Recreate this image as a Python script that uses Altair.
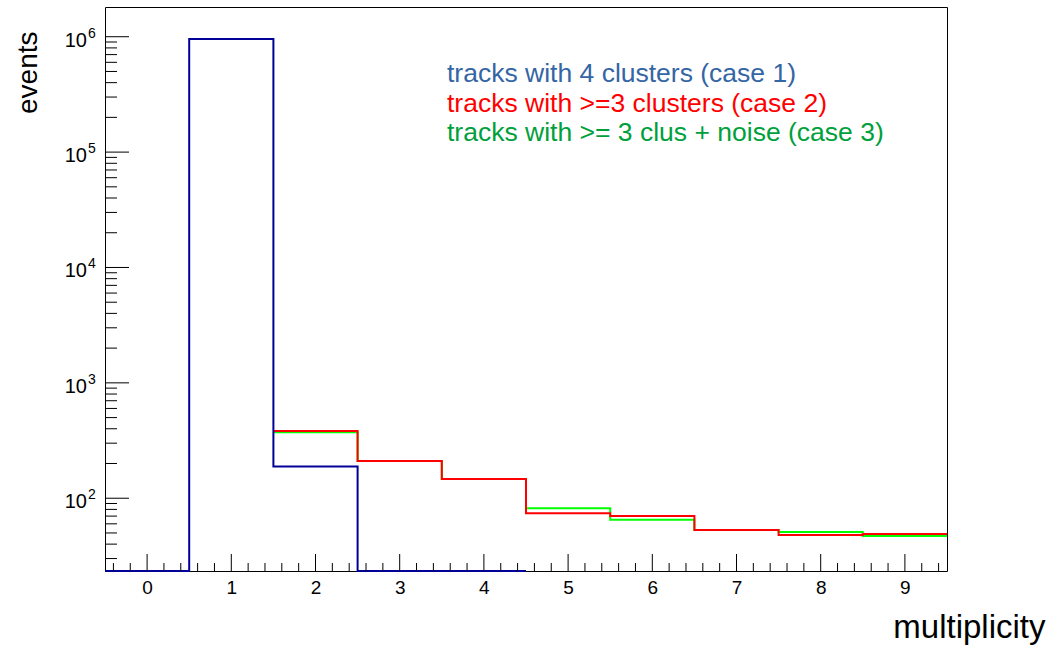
import altair as alt
import numpy as np
import pandas as pd

# ---- histogram contents (bin centre = multiplicity) ----
bins_case1 = [0, 1, 2, 3, 4]
counts_case1 = [0, 955000, 188, 0, 0]

bins_case23 = [2, 3, 4, 5, 6, 7, 8, 9]
counts_case2 = [383, 210, 147, 74, 70, 53, 48, 49]
counts_case3 = [373, 210, 147, 82, 65, 53, 51, 47]

legend_labels = [
    "tracks with 4 clusters (case 1)",
    "tracks with >=3 clusters (case 2)",
    "tracks with >= 3 clus + noise (case 3)",
]
legend_colors = ["#3465a4", "#ff0000", "#00a03c"]

# ---- axis ranges and tick positions ----
X_MIN, X_MAX = -0.5, 9.5
Y_MIN, Y_MAX = 23.4, 1.81e6
x_major = list(range(0, 10))
x_minor = [i / 5 for i in range(-2, 48) if i % 5 != 0]
y_major = [1e2, 1e3, 1e4, 1e5, 1e6]
y_minor = [m * 10 ** k for k in range(1, 7) for m in range(2, 10)
           if Y_MIN < m * 10 ** k < Y_MAX]

W, H = 842, 564
FONT = "Liberation Sans"

xscale = alt.Scale(domain=[X_MIN, X_MAX], nice=False, zero=False)
yscale = alt.Scale(type="log", domain=[Y_MIN, Y_MAX], nice=False, clamp=True)

# one axis definition per channel, shared by every layer so they merge cleanly
X_AXIS = alt.Axis(values=x_major, ticks=False, domain=False, grid=False,
                  labelFont=FONT, labelFontSize=19, labelColor="black",
                  labelPadding=7, title="multiplicity", titleFont=FONT,
                  titleFontSize=33, titleFontWeight="normal", titleColor="black",
                  titleAlign="right", titleBaseline="alphabetic",
                  titleX=940, titleY=66)
Y_AXIS = alt.Axis(labels=False, ticks=False, domain=False, grid=False,
                  title="events", titleFont=FONT, titleFontSize=28,
                  titleFontWeight="normal", titleColor="black",
                  titleAngle=270, titleAlign="right", titleBaseline="alphabetic",
                  titleX=-69, titleY=24)


def step_table(bins, counts):
    """Edges + contents for a step-after line; empty bins sit on the frame floor."""
    edges = [b - 0.5 for b in bins] + [bins[-1] + 0.5]
    vals = [c if c > 0 else Y_MIN for c in counts]
    vals = vals + [vals[-1]]
    return pd.DataFrame({"edge": edges, "count": vals, "order": range(len(edges))})


def hist_layer(df, color):
    return alt.Chart(df).mark_line(interpolate="step-after", color=color,
                                   strokeWidth=2).encode(
        x=alt.X("edge:Q", scale=xscale, axis=X_AXIS, title="multiplicity"),
        y=alt.Y("count:Q", scale=yscale, axis=Y_AXIS, title="events"),
        order="order:Q",
    )


green = hist_layer(step_table(bins_case23, counts_case3), "#00ff00")
red = hist_layer(step_table(bins_case23, counts_case2), "#ff0000")
blue = hist_layer(step_table(bins_case1, counts_case1), "#000099")


def xpos(field):
    return alt.X(field, scale=xscale, axis=X_AXIS, title="multiplicity")


def ypos(field):
    return alt.Y(field, scale=yscale, axis=Y_AXIS, title="events")


# ---- inward ticks on the frame ----
xmaj_ticks = alt.Chart(pd.DataFrame({"v": x_major})).mark_rule(color="black").encode(
    x=xpos("v:Q"), y=alt.value(H), y2=alt.value(H - 17))
xmin_ticks = alt.Chart(pd.DataFrame({"v": x_minor})).mark_rule(color="black").encode(
    x=xpos("v:Q"), y=alt.value(H), y2=alt.value(H - 8))
ymaj_ticks = alt.Chart(pd.DataFrame({"v": y_major})).mark_rule(color="black").encode(
    y=ypos("v:Q"), x=alt.value(0), x2=alt.value(24))
ymin_ticks = alt.Chart(pd.DataFrame({"v": y_minor})).mark_rule(color="black").encode(
    y=ypos("v:Q"), x=alt.value(0), x2=alt.value(12))

# ---- log-axis labels written as 10 with a raised exponent ----
ylab = pd.DataFrame({"v": y_major,
                     "base": ["10"] * len(y_major),
                     "exp": [str(int(round(np.log10(v)))) for v in y_major]})
ybase = alt.Chart(ylab).mark_text(align="right", baseline="alphabetic", dy=10,
                                  font=FONT, fontSize=20, color="black").encode(
    y=ypos("v:Q"), x=alt.value(-18), text="base:N")
yexp = alt.Chart(ylab).mark_text(align="left", baseline="alphabetic", dy=1,
                                 font=FONT, fontSize=14, color="black").encode(
    y=ypos("v:Q"), x=alt.value(-17), text="exp:N")

# ---- legend text ----
legend_layers = []
for i, (lab, col) in enumerate(zip(legend_labels, legend_colors)):
    legend_layers.append(
        alt.Chart(pd.DataFrame({"label": [lab]})).mark_text(
            align="left", baseline="alphabetic", font=FONT, fontSize=26.5, color=col
        ).encode(x=alt.value(342), y=alt.value(75 + i * 29.7), text="label:N")
    )

chart = alt.layer(
    green, red, blue,
    xmaj_ticks, xmin_ticks, ymaj_ticks, ymin_ticks,
    ybase, yexp, *legend_layers,
).properties(
    width=W, height=H,
    padding={"left": 105, "top": 7, "right": 106, "bottom": 74},
    autosize=alt.AutoSizeParams(type="none"),
    background="white",
).configure_view(stroke="black", strokeWidth=1)

chart.save("out.html", embed_options={"renderer": "svg", "actions": False})
